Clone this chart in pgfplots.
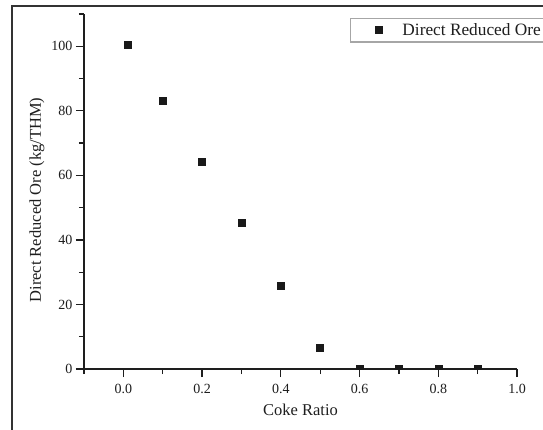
\documentclass[border=0pt]{standalone}
\usepackage{pgfplots}
\pgfplotsset{compat=1.18}
\usepackage{fontspec}
\setmainfont{Liberation Serif}
\definecolor{ink}{HTML}{1E1E1E}
\definecolor{framec}{HTML}{333333}
\begin{document}
\begin{tikzpicture}[x=1pt,y=1pt]
\useasboundingbox (0,0) rectangle (543,429);
\clip (0,0) rectangle (543,429);
\fill[white] (0,0) rectangle (543,429);
\draw[framec, line width=1.5pt] (12,423) rectangle (620,-40);
\begin{axis}[
  at={(84pt,60pt)}, anchor=south west,
  scale only axis, width=433pt, height=355pt,
  xmin=-0.1, xmax=1.0, ymin=0, ymax=110,
  axis x line*=bottom, axis y line*=left,
  axis line style={line width=1.4pt, ink},
  xtick={0,0.2,0.4,0.6,0.8,1.0},
  minor xtick={-0.1,0.1,0.3,0.5,0.7,0.9},
  ytick={0,20,40,60,80,100},
  minor ytick={10,30,50,70,90,110},
  tick align=outside,
  major tick length=8pt, minor tick length=5pt,
  every tick/.style={line width=1.2pt, ink},
  /pgf/number format/assume math mode=true,
  xticklabel style={/pgf/number format/fixed, /pgf/number format/fixed zerofill, /pgf/number format/precision=1, yshift=-4pt},
  ticklabel style={font=\fontsize{14}{16}\selectfont, text=ink},
  xlabel={Coke Ratio},
  ylabel={Direct Reduced Ore (kg/THM)},
  label style={font=\fontsize{16.5}{19}\selectfont, text=ink},
  xlabel style={at={(axis description cs:0.5,-0.1155)}, anchor=center},
  ylabel style={at={(axis description cs:-0.1085,0.476)}, anchor=center},
  clip mode=individual, clip marker paths=true,
  legend style={at={(rel axis cs:0.614,0.989)}, anchor=north west,
    draw=gray!70, line width=1.2pt, fill=white,
    font=\fontsize{17.3}{19}\selectfont, text=ink,
    inner xsep=25pt, inner ysep=3pt},
  legend cell align=left,
]
\addplot[only marks, mark=square*, mark size=3.5pt, color=black!90, mark options={fill=black!90}]
coordinates {
(0.01,100.5) (0.1,83.2) (0.2,64.2) (0.3,45.2) (0.4,25.8)
(0.5,6.7) (0.6,0) (0.7,0) (0.8,0) (0.9,0)
};
\addlegendentry{\hspace{18pt}Direct Reduced Ore}
\end{axis}
\end{tikzpicture}
\end{document}
